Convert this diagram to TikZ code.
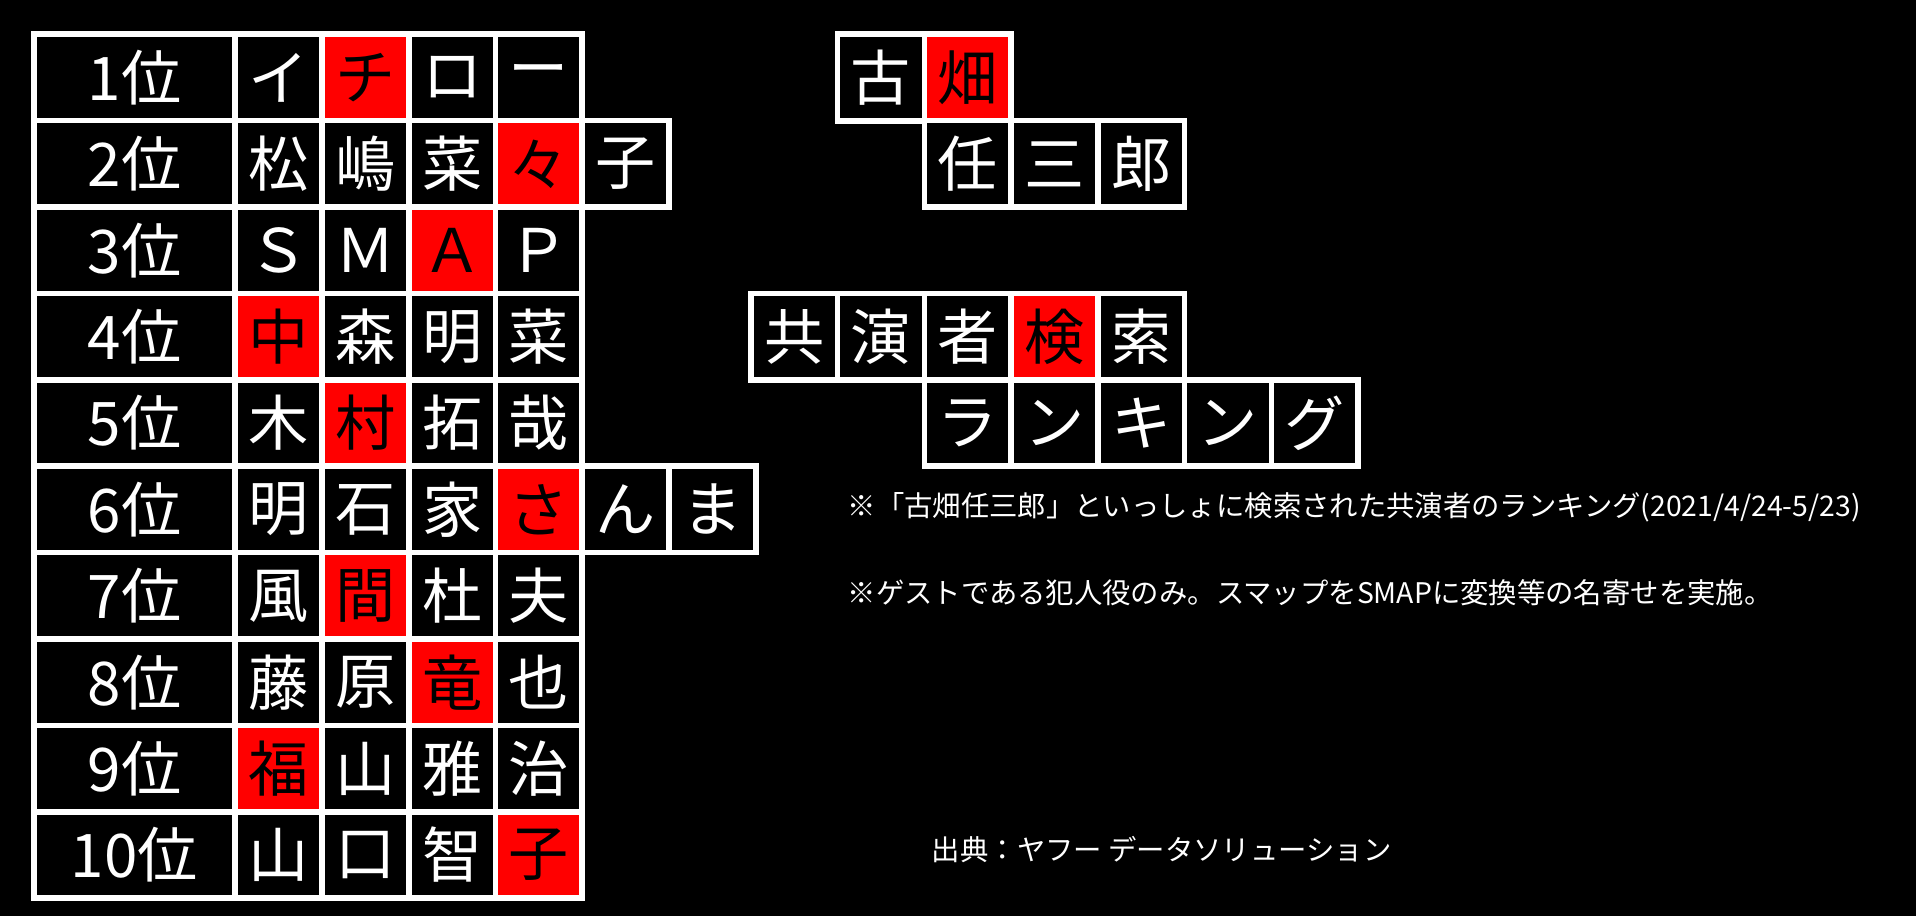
\documentclass[tikz,border=0pt]{standalone}
\usepackage{fontspec}
\setmainfont{Noto Sans CJK JP}
\tikzset{
    cell/.style={draw=white, line width=1.3pt, minimum width=0.71cm, minimum height=0.707cm,
        inner sep=0pt, text=white, font=\fontsize{14}{14}\selectfont},
    rankcell/.style={cell, minimum width=1.64cm},
    note/.style={text=white, anchor=west, inner sep=0pt, font=\fontsize{6.6}{8}\selectfont}
}
% row of cells: #1 name, #2 first centre x, #3 centre y, #4 chars, #5 red cell
\newcommand\wordrow[5]{%
    \foreach \c [count=\i] in {#4} {
        \ifnum\i=#5 \def\fc{red}\def\tc{black}\else\def\fc{black}\def\tc{white}\fi
        \node[cell, fill=\fc, text=\tc] (#1-\i) at (#2+71*\i-71,#3) {\c};
    }%
}
% one line of the ranking
\newcommand\rankrow[4]{%
    \pgfmathsetmacro\rowy{63.4+70.7*(#1-1)}
    \node[rankcell, fill=black] (r#1) at (110,\rowy) {#2};
    \wordrow{r#1}{228}{\rowy}{#3}{#4}
}
\begin{document}
\begin{tikzpicture}[x=0.01cm, y=-0.01cm]
\fill[black] (0,0) rectangle (1568,750);
\useasboundingbox (0,0) rectangle (1568,750);

% ranking
\rankrow{1}{1位}{イ,チ,ロ,ー}{2}
\rankrow{2}{2位}{松,嶋,菜,々,子}{4}
\rankrow{3}{3位}{Ｓ,Ｍ,Ａ,Ｐ}{3}
\rankrow{4}{4位}{中,森,明,菜}{1}
\rankrow{5}{5位}{木,村,拓,哉}{2}
\rankrow{6}{6位}{明,石,家,さ,ん,ま}{4}
\rankrow{7}{7位}{風,間,杜,夫}{2}
\rankrow{8}{8位}{藤,原,竜,也}{3}
\rankrow{9}{9位}{福,山,雅,治}{1}
\rankrow{10}{10位}{山,口,智,子}{4}

% title
\wordrow{t1}{721}{63.4}{古,畑}{2}
\wordrow{t2}{792}{134.1}{任,三,郎}{0}
\wordrow{t3}{650}{275.5}{共,演,者,検,索}{4}
\wordrow{t4}{792}{346.2}{ラ,ン,キ,ン,グ}{0}

% notes
\node[note] (n1) at (693,415) {※「古畑任三郎」といっしょに検索された共演者のランキング(2021/4/24-5/23)};
\node[note] (n2) at (693,485) {※ゲストである犯人役のみ。スマップをSMAPに変換等の名寄せを実施。};
\node[note] (src) at (762,695) {出典：ヤフー データソリューション};
\end{tikzpicture}
\end{document}
